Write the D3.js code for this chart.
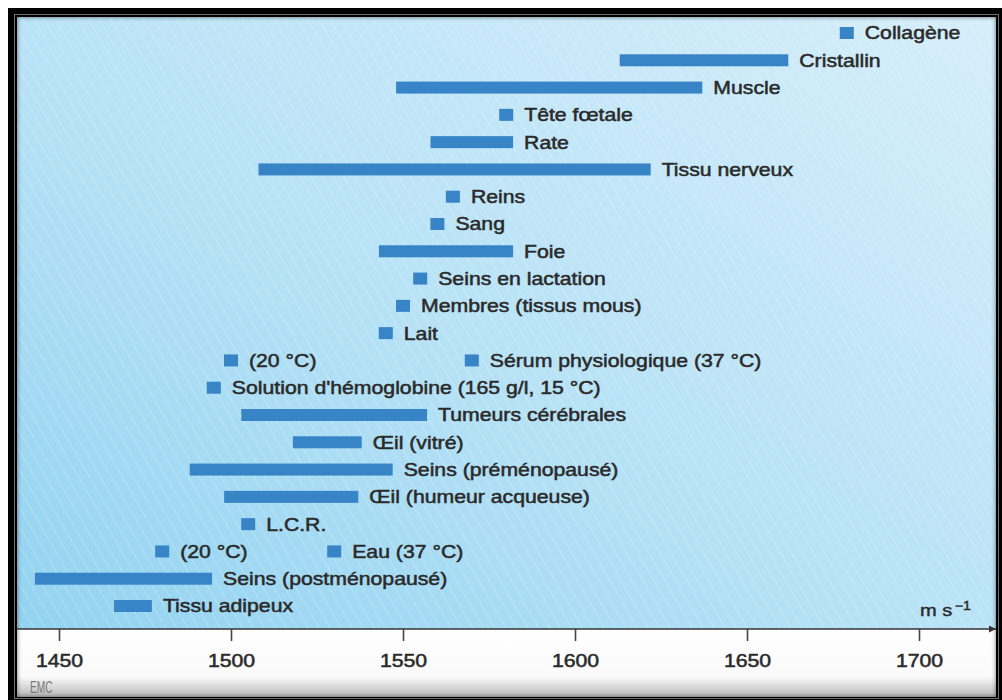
<!DOCTYPE html>
<html>
<head>
<meta charset="utf-8">
<script src="https://cdn.jsdelivr.net/npm/d3@7"></script>
<style>
  body { margin: 0; background: #fff; }
  svg { display: block; }
  text { font-family: "Liberation Sans", Arial, Helvetica, sans-serif; }
</style>
</head>
<body>
<script>
const WIDTH = 1002;
const HEIGHT = 700;
const SX = 1.18; // the original figure is stretched horizontally

// one entry per mark; rows are counted from the top
const names = ["Collagène", "Cristallin", "Muscle", "Tête fœtale", "Rate", "Tissu nerveux",
  "Reins", "Sang", "Foie", "Seins en lactation", "Membres (tissus mous)", "Lait",
  "(20 °C)", "Sérum physiologique (37 °C)", "Solution d'hémoglobine (165 g/l, 15 °C)",
  "Tumeurs cérébrales", "Œil (vitré)", "Seins (préménopausé)", "Œil (humeur acqueuse)",
  "L.C.R.", "(20 °C)", "Eau (37 °C)", "Seins (postménopausé)", "Tissu adipeux"];
const rowOf = [0, 1, 2, 3, 4, 5, 6, 7, 8, 9, 10, 11, 12, 12, 13, 14, 15, 16, 17, 18, 19, 19, 20, 21];
const lows  = [1679, 1613, 1548, 1580, 1558, 1508, 1564.5, 1560, 1543, 1555, 1550, 1545,
  1500, 1570, 1495, 1503, 1518, 1488, 1498, 1505, 1480, 1530, 1443, 1466];
// null = single value, drawn as a small square
const highs = [null, 1662, 1637, null, 1582, 1622, null, null, 1582, null, null, null,
  null, null, null, 1557, 1538, 1547, 1537, null, null, null, 1494.5, 1477];
const ticks = [1450, 1500, 1550, 1600, 1650, 1700];
const unit = "m s";

const svg = d3.select("body").append("svg")
  .attr("width", WIDTH)
  .attr("height", HEIGHT);

const defs = svg.append("defs");

const bg = defs.append("linearGradient")
  .attr("id", "bg")
  .attr("x1", 0).attr("y1", 1).attr("x2", 1).attr("y2", 0);
bg.append("stop").attr("offset", "0%").attr("stop-color", "#93d3f1");
bg.append("stop").attr("offset", "45%").attr("stop-color", "#b7e2f6");
bg.append("stop").attr("offset", "100%").attr("stop-color", "#d6eefa");

const stripes = defs.append("pattern")
  .attr("id", "stripes")
  .attr("patternUnits", "userSpaceOnUse")
  .attr("width", 9.5).attr("height", 20)
  .attr("patternTransform", "rotate(-30)");
stripes.append("line")
  .attr("x1", 0).attr("y1", 0).attr("x2", 0).attr("y2", 20)
  .attr("stroke", "#fff").attr("stroke-opacity", 0.3).attr("stroke-width", 1.4);

const foot = defs.append("linearGradient")
  .attr("id", "foot")
  .attr("x1", 0).attr("y1", 0).attr("x2", 0).attr("y2", 1);
foot.append("stop").attr("offset", "0%").attr("stop-color", "#fff");
foot.append("stop").attr("offset", "70%").attr("stop-color", "#fafafa");
foot.append("stop").attr("offset", "100%").attr("stop-color", "#b8b8b8");

defs.append("filter").attr("id", "blur")
  .append("feGaussianBlur").attr("stdDeviation", 2);

defs.append("marker")
  .attr("id", "arrow")
  .attr("viewBox", "0 0 10 10")
  .attr("refX", 10).attr("refY", 5)
  .attr("markerWidth", 12).attr("markerHeight", 7)
  .attr("markerUnits", "userSpaceOnUse")
  .attr("orient", "auto")
  .append("path").attr("d", "M0,0L10,5L0,10z").attr("fill", "#333");

defs.append("clipPath").attr("id", "panel")
  .append("rect").attr("x", 17).attr("y", 17).attr("width", 979).attr("height", 680);

// frame
svg.append("rect")
  .attr("x", 8).attr("y", 8)
  .attr("width", WIDTH - 8).attr("height", HEIGHT - 8)
  .attr("fill", "#000");
svg.append("rect")
  .attr("x", 14.5).attr("y", 14.5)
  .attr("width", 984).attr("height", 684)
  .attr("fill", "none")
  .attr("stroke", "#ddd")
  .attr("stroke-dasharray", "1,1");

const axisY = 629;
const panel = svg.append("g").attr("clip-path", "url(#panel)");
panel.append("rect")
  .attr("x", 17).attr("y", 17).attr("width", 979).attr("height", axisY - 17)
  .attr("fill", "url(#bg)");
panel.append("rect")
  .attr("x", 17).attr("y", 17).attr("width", 979).attr("height", axisY - 17)
  .attr("fill", "url(#stripes)");
panel.append("rect")
  .attr("x", 17).attr("y", axisY).attr("width", 979).attr("height", 697 - axisY)
  .attr("fill", "url(#foot)");
// soft inner shadow along the panel edges
panel.append("rect")
  .attr("x", 15).attr("y", 15).attr("width", 983).attr("height", 684)
  .attr("fill", "none")
  .attr("stroke", "#333")
  .attr("stroke-width", 4)
  .attr("opacity", 0.7)
  .attr("filter", "url(#blur)");

const x = d3.scaleLinear().domain([1450, 1700]).range([59, 919]);
const y = d3.scalePoint().domain(d3.range(22)).range([33, 606]);

const BAR_H = 12;
const SQ = 14;
const idx = d3.range(names.length);

const marks = svg.append("g");
marks.selectAll("rect")
  .data(idx)
  .join("rect")
  .attr("x", i => highs[i] === null ? x(lows[i]) - SQ / 2 : x(lows[i]))
  .attr("y", i => y(rowOf[i]) - BAR_H / 2)
  .attr("width", i => highs[i] === null ? SQ : x(highs[i]) - x(lows[i]))
  .attr("height", BAR_H)
  .attr("fill", "#3784c6");

const endX = i => highs[i] === null ? x(lows[i]) + SQ / 2 : x(highs[i]);

marks.selectAll("text")
  .data(idx)
  .join("text")
  .attr("transform", i => "translate(" + [endX(i) + 11, y(rowOf[i])] + ") scale(" + SX + ",1)")
  .attr("dy", "0.36em")
  .attr("font-size", 18)
  .attr("fill", "#2a2a2a")
  .attr("stroke", "#2a2a2a")
  .attr("stroke-width", 0.5)
  .text(i => names[i]);

// x axis
svg.append("line")
  .attr("x1", 17).attr("x2", 996)
  .attr("y1", axisY).attr("y2", axisY)
  .attr("stroke", "#333")
  .attr("stroke-width", 1.6)
  .attr("marker-end", "url(#arrow)");

const axis = d3.axisBottom(x)
  .tickValues(ticks)
  .tickSize(12)
  .tickPadding(13)
  .tickFormat(d3.format("d"));

const gx = svg.append("g")
  .attr("transform", "translate(0," + axisY + ")")
  .call(axis);
gx.select(".domain").remove();
gx.selectAll(".tick line").attr("stroke", "#444").attr("stroke-width", 1.6);
gx.selectAll(".tick text")
  .attr("font-family", null)
  .attr("font-size", 18)
  .attr("fill", "#2a2a2a")
  .attr("stroke", "#2a2a2a")
  .attr("stroke-width", 0.5)
  .attr("transform", "scale(" + SX + ",1)");

const unitText = svg.append("text")
  .attr("transform", "translate(920," + (axisY - 13) + ") scale(" + SX + ",1)")
  .attr("font-size", 17)
  .attr("fill", "#2a2a2a")
  .attr("stroke", "#2a2a2a")
  .attr("stroke-width", 0.4)
  .text(unit);
unitText.append("tspan")
  .attr("dx", 2)
  .attr("dy", -6)
  .attr("font-size", 12)
  .text("−1");

// publisher mark
svg.append("text")
  .attr("transform", "translate(30,693) scale(0.6,1)")
  .attr("font-size", 17)
  .attr("fill", "#777")
  .text("EMC");
</script>
</body>
</html>
